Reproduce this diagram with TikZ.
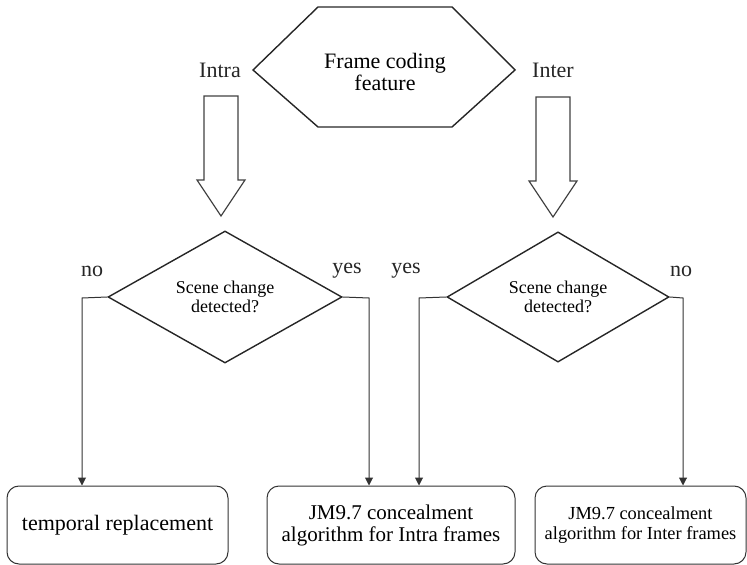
\documentclass[tikz,border=0pt]{standalone}
\usepackage{fontspec}
\setmainfont{Liberation Serif}
\usetikzlibrary{shapes,arrows.meta,calc}
\newcommand{\hollowarrow}[2]{\draw[blockarrow] (#1-17,#2) -- (#1+17,#2) -- (#1+17,#2+84) -- (#1+24,#2+84) -- (#1,#2+120) -- (#1-24,#2+84) -- (#1-17,#2+84) -- cycle;}

\begin{document}
\begin{tikzpicture}[x=0.5pt,y=-0.5pt,
    shapeline/.style={draw=black!85, line width=0.7pt},
    blockarrow/.style={draw=black!75, line width=0.6pt},
    decision/.style={diamond, shapeline, inner sep=0pt, align=center,
        font=\fontsize{9}{9.5}\selectfont},
    outcome/.style={rectangle, rounded corners=6pt, draw=black!80, line width=0.5pt,
        minimum height=39pt, align=center},
    flow/.style={draw=black!80, line width=0.5pt, -{Triangle[length=4pt,width=4pt]}},
    tag/.style={font=\fontsize{11}{11}\selectfont, text=black!85}]
    \useasboundingbox (0,0) rectangle (747,565);

    %frame type
    \draw[shapeline] (318,7) -- (452,7) -- (515,70) -- (452,127) -- (318,127) -- (253,70) -- cycle;
    \node[align=center, font=\fontsize{11}{9.5}\selectfont] (feat) at (385,72) {Frame coding\\feature};
    \node[tag] (intra) at (220,70) {Intra};
    \node[tag] (inter) at (553,70) {Inter};
    \hollowarrow{221}{96}
    \hollowarrow{553}{97}

    %scene change tests
    \node[decision, minimum width=117pt, minimum height=66pt] (dl) at (225,297) {Scene change\\detected?};
    \node[decision, minimum width=111pt, minimum height=62.5pt] (dr) at (558,297) {Scene change\\detected?};
    \node[tag] (lno) at (92,271) {no};
    \node[tag] (lyes) at (347,271) {yes};
    \node[tag] (ryes) at (406,271) {yes};
    \node[tag] (rno) at (681,271) {no};

    %concealment methods
    \node[outcome, minimum width=110.5pt, font=\fontsize{11}{11}\selectfont] (tr) at (117.5,525) {temporal replacement};
    \node[outcome, minimum width=124pt, font=\fontsize{10.5}{11}\selectfont] (cj) at (391,525) {JM9.7 concealment\\algorithm for Intra frames};
    \node[outcome, minimum width=105.5pt, font=\fontsize{9.2}{9.6}\selectfont] (ci) at (640.5,525) {JM9.7 concealment\\algorithm for Inter frames};

    \coordinate (nol) at (82,298);
    \coordinate (yesl) at (369,298);
    \coordinate (yesr) at (419,298);
    \coordinate (nor) at (683,298);
    \draw[flow] (dl.west) -- (nol) -- (nol |- tr.north);
    \draw[flow] (dl.east) -- (yesl) -- (yesl |- cj.north);
    \draw[flow] (dr.west) -- (yesr) -- (yesr |- cj.north);
    \draw[flow] (dr.east) -- (nor) -- (nor |- ci.north);
\end{tikzpicture}
\end{document}
